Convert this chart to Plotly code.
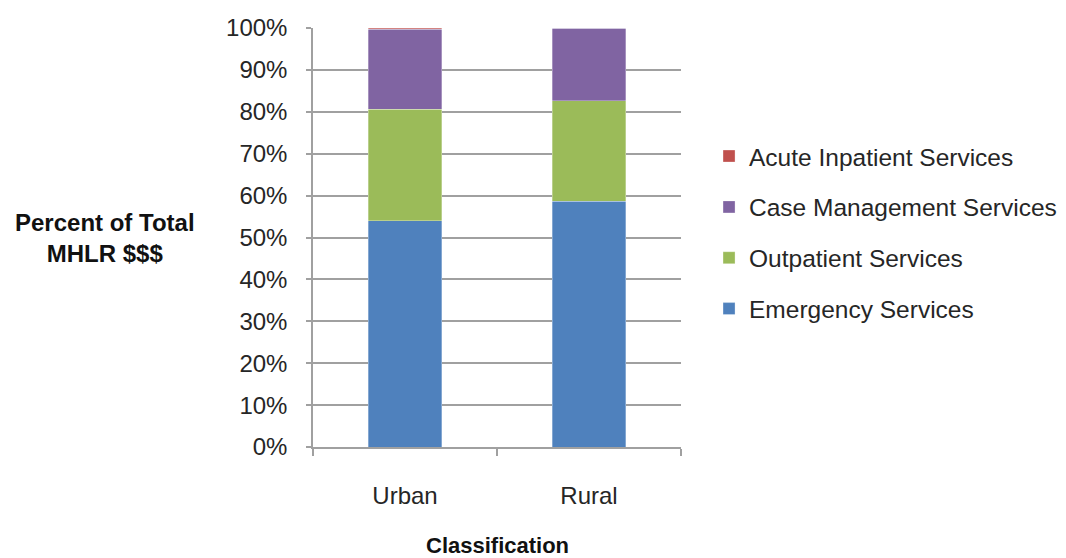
import plotly.graph_objects as go

categories = ["Urban", "Rural"]
emergency = [0.540, 0.587]
outpatient = [0.266, 0.239]
case_mgmt = [0.191, 0.174]
acute = [0.003, 0.0]

series_names = ["Emergency Services", "Outpatient Services", "Case Management Services", "Acute Inpatient Services"]
series_values = [emergency, outpatient, case_mgmt, acute]
series_colors = ["#4F81BD", "#9BBB59", "#8064A2", "#C0504D"]
legend_ranks = [4, 3, 2, 1]

FONT = "Liberation Sans"
TXT = "#262626"

fig = go.Figure()
for name, vals, col, rank in zip(series_names, series_values, series_colors, legend_ranks):
    fig.add_trace(go.Bar(
        x=categories, y=vals, name=name, legendgroup=name, legendrank=rank,
        marker=dict(color=col, line=dict(color="rgba(255,255,255,0.6)", width=0.5)),
    ))

fig.update_layout(
    width=1058, height=550,
    barmode="stack", bargap=0.6,
    paper_bgcolor="white", plot_bgcolor="white",
    margin=dict(l=305, r=385, t=20, b=111, autoexpand=False),
    font=dict(family=FONT, size=24, color=TXT),
    showlegend=True,
    legend=dict(
        traceorder="grouped", tracegroupgap=16,
        xref="container", yref="container",
        x=0.6626, xanchor="left", y=0.7716, yanchor="top",
        font=dict(family=FONT, size=24.5, color=TXT),
        itemwidth=30, bgcolor="rgba(0,0,0,0)",
    ),
    xaxis=dict(
        showline=True, linecolor="#A0A0A0", linewidth=1.5,
        ticks="outside", ticklen=7, tickcolor="#A0A0A0", tickwidth=1.5,
        tickson="boundaries", ticklabelstandoff=26, automargin=False,
        showgrid=False, tickfont=dict(family=FONT, size=24, color=TXT),
    ),
    yaxis=dict(
        range=[0, 1], tickformat=".0%", dtick=0.1,
        showline=True, linecolor="#A0A0A0", linewidth=1.5,
        ticks="outside", ticklen=5, tickcolor="#A0A0A0", tickwidth=1.5,
        showgrid=True, gridcolor="#A0A0A0", gridwidth=1.5,
        zeroline=False, ticklabelstandoff=14, automargin=False,
        tickfont=dict(family=FONT, size=24, color=TXT),
    ),
    annotations=[
        dict(text="<b>Percent of Total<br>MHLR $$$</b>", xref="paper", yref="paper",
             x=-0.565, y=0.5, xanchor="center", yanchor="middle", showarrow=False,
             align="center", font=dict(family=FONT, size=24, color="#111111")),
        dict(text="<b>Classification</b>", xref="paper", yref="paper",
             x=0.5, y=-0.234, xanchor="center", yanchor="middle", showarrow=False,
             font=dict(family=FONT, size=22, color="#111111")),
    ],
)

fig.write_html("out.html")
